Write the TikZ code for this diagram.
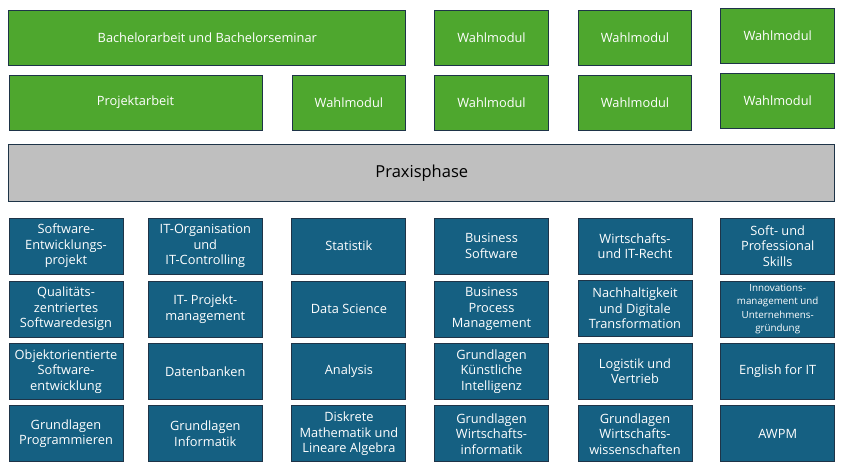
\documentclass[tikz,border=0pt]{standalone}
\usepackage{fontspec}
\setmainfont{Open Sans}
\definecolor{grn}{HTML}{4EA72E}
\definecolor{blu}{HTML}{156082}
\definecolor{edge}{HTML}{1E3448}
\definecolor{gry}{HTML}{BFBFBF}
\tikzset{
  base/.style={draw=edge, line width=1pt, align=center, inner sep=1pt, text=white,
    font=\fontsize{12.8}{15.6}\selectfont},
  gbox/.style={base, fill=grn, minimum height=55pt},
  bbox/.style={base, fill=blu, minimum width=114pt, minimum height=56pt},
  pbox/.style={base, fill=gry, text=black, font=\fontsize{16.5}{19}\selectfont}
}
\begin{document}
\begin{tikzpicture}[x=1pt,y=-1pt]
\useasboundingbox (0,0) rectangle (848,474);
% green top
\node[gbox, minimum width=396.7pt] (ba) at (207.3,37.5) {Bachelorarbeit und Bachelorseminar};
\node[gbox, minimum width=113.6pt] (w13) at (491.5,37.5) {Wahlmodul};
\node[gbox, minimum width=113.7pt] (w14) at (635,37.5) {Wahlmodul};
\node[gbox, minimum width=114pt] (w15) at (777.7,35.7) {Wahlmodul};
\node[gbox, minimum width=253pt] (pa) at (135.5,102.5) {Projektarbeit};
\node[gbox, minimum width=113.7pt] (w22) at (348.9,102.5) {Wahlmodul};
\node[gbox, minimum width=113.6pt] (w23) at (491.5,102.5) {Wahlmodul};
\node[gbox, minimum width=113.7pt] (w24) at (635,102.5) {Wahlmodul};
\node[gbox, minimum width=114pt] (w25) at (777.7,100.5) {Wahlmodul};
% Praxisphase
\node[pbox, minimum width=825.7pt, minimum height=56.7pt] (pp) at (421.8,173.3) {Praxisphase};
% blue grid
\node[bbox] (a1) at (66,246) {Software-\\Entwicklungs-\\projekt};
\node[bbox] (b1) at (205.3,246) {IT-Organisation\\und\\IT-Controlling};
\node[bbox] (c1) at (348.9,246) {Statistik};
\node[bbox] (d1) at (491.5,246) {Business\\Software};
\node[bbox] (e1) at (635,246) {Wirtschafts-\\und IT-Recht};
\node[bbox] (f1) at (777.7,246) {Soft- und\\Professional\\Skills};
\node[bbox] (a2) at (66,309) {Qualitäts-\\zentriertes\\Softwaredesign};
\node[bbox] (b2) at (205.3,309) {IT- Projekt-\\management};
\node[bbox] (c2) at (348.9,309) {Data Science};
\node[bbox] (d2) at (491.5,309) {Business\\Process\\Management};
\node[bbox] (e2) at (635,308.5) {Nachhaltigkeit\\und Digitale\\Transformation};
\node[bbox, font=\fontsize{9.8}{13.4}\selectfont] (f2) at (777.7,309) {Innovations-\\management und\\Unternehmens-\\gründung};
\node[bbox] (a3) at (66,371.3) {Objektorientierte\\Software-\\entwicklung};
\node[bbox] (b3) at (205.3,371.3) {Datenbanken};
\node[bbox] (c3) at (348.9,371.3) {Analysis};
\node[bbox] (d3) at (491.5,371.3) {Grundlagen\\Künstliche\\Intelligenz};
\node[bbox] (e3) at (635,371.3) {Logistik und\\Vertrieb};
\node[bbox] (f3) at (777.7,371.3) {English for IT};
\node[bbox] (a4) at (66,433.8) {Grundlagen\\Programmieren};
\node[bbox] (b4) at (205.3,433.8) {Grundlagen\\Informatik};
\node[bbox] (c4) at (348.9,433.8) {Diskrete\\Mathematik und\\Lineare Algebra};
\node[bbox] (d4) at (491.5,433.8) {Grundlagen\\Wirtschafts-\\informatik};
\node[bbox] (e4) at (635,433.8) {Grundlagen\\Wirtschafts-\\wissenschaften};
\node[bbox] (f4) at (777.7,433.8) {AWPM};
\end{tikzpicture}
\end{document}
